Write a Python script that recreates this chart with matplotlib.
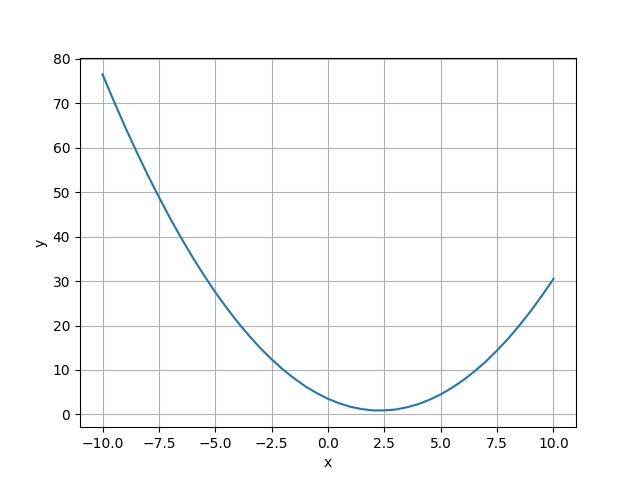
import matplotlib
matplotlib.use("Agg")
import matplotlib.pyplot as plt

x_vals = [-10, -9.5, -9, -8.5, -8, -7.5, -7, -6.5, -6, -5.5, -5, -4.5, -4, -3.5,
          -3, -2.5, -2, -1.5, -1, -0.5, 0, 0.5, 1, 1.5, 2, 2.5, 3, 3.5, 4, 4.5,
          5, 5.5, 6, 6.5, 7, 7.5, 8, 8.5, 9, 9.5, 10]
y_vals = [76.5, 70.5, 64.7, 59.2, 53.9, 48.9, 44.1, 39.6, 35.3, 31.3, 27.5, 24.0,
          20.7, 17.7, 14.9, 12.4, 10.1, 8.1, 6.3, 4.8, 3.5, 2.5, 1.7, 1.2, 0.9,
          0.9, 1.1, 1.6, 2.3, 3.3, 4.5, 6.0, 7.7, 9.7, 11.9, 14.4, 17.1, 20.1,
          23.3, 26.8, 30.5]

fig, ax = plt.subplots(figsize=(6.4, 4.8), dpi=100)
ax.plot(x_vals, y_vals, color="#1f77b4")
ax.set_xlabel("x")
ax.set_ylabel("y")
ax.grid(True)
fig.savefig("out.png")
